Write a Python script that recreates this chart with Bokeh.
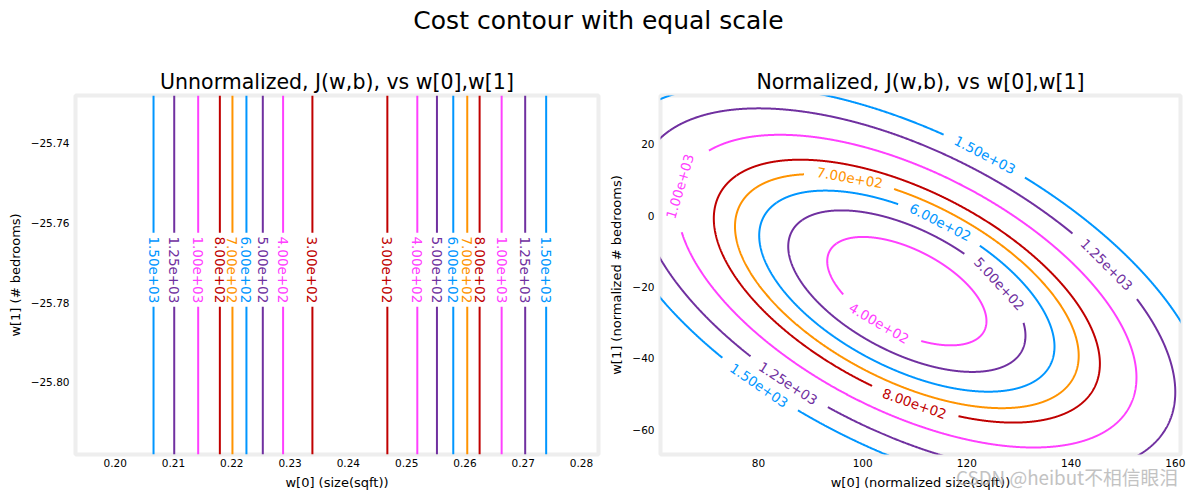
import numpy as np
from bokeh.plotting import figure
from bokeh.models import Range1d, FixedTicker, Div
from bokeh.layouts import column, row
from bokeh.core.properties import value
from bokeh.embed import file_html
from bokeh.resources import INLINE

FONT = "DejaVu Sans"
DLBLUE, DLORANGE, DLDARKRED, DLMAGENTA, DLPURPLE = "#0096ff", "#ff9300", "#c00000", "#ff40ff", "#7030a0"

# ---------------- data ----------------
levels = [300, 400, 500, 600, 700, 800, 1000, 1250, 1500]
level_colors = [DLDARKRED, DLMAGENTA, DLPURPLE, DLBLUE, DLORANGE, DLDARKRED, DLMAGENTA, DLPURPLE, DLBLUE]

# unnormalized: contour crossings along w[0] (lines are vertical)
left_w0_low = [0.23383, 0.22880, 0.22532, 0.22251, 0.22011, 0.21795, 0.21423, 0.21012, 0.20657]
left_w0_high = [0.24669, 0.25183, 0.25520, 0.25800, 0.26040, 0.26252, 0.26630, 0.27034, 0.27394]
left_label_w1 = -25.7718
left_x_range = (0.19318, 0.28292)
left_y_range = (-25.81818, -25.72800)
left_x_ticks = [0.20, 0.21, 0.22, 0.23, 0.24, 0.25, 0.26, 0.27, 0.28]
left_x_tick_labels = ["0.20", "0.21", "0.22", "0.23", "0.24", "0.25", "0.26", "0.27", "0.28"]
left_y_ticks = [-25.80, -25.78, -25.76, -25.74]
left_y_tick_labels = ["\u221225.80", "\u221225.78", "\u221225.76", "\u221225.74"]

# normalized: quadratic cost
right_center = (108.48, -21.15)
right_min_cost = 318.0
right_quad_coef = (0.5051, 0.561, 0.5111)   # coefficients of dx^2, dx*dy, dy^2
right_x_range = (61.2, 161.0)
right_y_range = (-66.92, 33.67)
right_x_ticks = [80, 100, 120, 140, 160]
right_x_tick_labels = ["80", "100", "120", "140", "160"]
right_y_ticks = [-60, -40, -20, 0, 20]
right_y_tick_labels = ["\u221260", "\u221240", "\u221220", "0", "20"]
right_label_levels = [1500, 1250, 1000, 700, 600, 500, 400, 800, 1250, 1500]
right_label_w0 = [123.6, 147.0, 65.2, 97.5, 114.8, 126.3, 103.0, 109.8, 85.7, 80.0]
right_label_w1 = [17.6, -13.4, 8.1, 10.1, -2.2, -19.0, -30.5, -53.2, -46.9, -47.9]

suptitle = "Cost contour with equal scale"
titles = ["Unnormalized, J(w,b), vs w[0],w[1]", "Normalized, J(w,b), vs w[0],w[1]"]
xlabels = ["w[0] (size(sqft))", "w[0] (normalized size(sqft))"]
ylabels = ["w[1] (# bedrooms)", "w[1] (normalized # bedrooms)"]
watermark = "CSDN @heibut不相信眼泪"

# ---------------- layout constants ----------------
FH = 359
FW1, FW2 = 523, 524
TOP, BOTTOM = 47, 40
LABEL_SIZE = "13.5px"


def fmt(L):
    return f"{L:.2e}"


def make_fig(title, xr, yr, fw, mbl, mbr, xlabel, ylabel, xt, xtl, yt, ytl):
    p = figure(width=mbl + fw + mbr, height=TOP + FH + BOTTOM,
               x_range=Range1d(*xr), y_range=Range1d(*yr),
               output_backend="svg", toolbar_location=None,
               min_border_left=mbl, min_border_right=mbr,
               min_border_top=TOP, min_border_bottom=BOTTOM)
    p.title.text = title
    p.title.text_font = FONT
    p.title.text_font_size = "20.5px"
    p.title.text_font_style = "normal"
    p.title.align = "center"
    p.title.text_color = "#000000"
    p.title.standoff = 3
    p.grid.visible = False
    p.outline_line_color = "#eeeeee"
    p.outline_line_width = 4
    p.background_fill_color = "white"
    p.border_fill_color = "white"
    for ax, lab, ticks, tl in ((p.xaxis, xlabel, xt, xtl), (p.yaxis, ylabel, yt, ytl)):
        ax.ticker = FixedTicker(ticks=ticks)
        ax.major_label_overrides = {t: s for t, s in zip(ticks, tl)}
        ax.axis_label = lab
        ax.axis_label_text_font = FONT
        ax.axis_label_text_font_size = "13px"
        ax.axis_label_text_font_style = "normal"
        ax.axis_label_text_color = "#000000"
        ax.major_label_text_font = FONT
        ax.major_label_text_font_size = "10.5px"
        ax.major_label_text_color = "#000000"
        ax.axis_line_color = None
        ax.major_tick_line_color = None
        ax.minor_tick_line_color = None
        ax.major_tick_out = 0
        ax.major_tick_in = 0
    p.xaxis.major_label_standoff = 4
    p.xaxis.axis_label_standoff = 5
    p.yaxis.major_label_standoff = 6
    return p


# ---------------- suptitle ----------------
p0 = figure(width=1186, height=48, x_range=Range1d(0, 1186), y_range=Range1d(0, 48),
            output_backend="svg", toolbar_location=None, min_border=0,
            x_axis_type=None, y_axis_type=None)
p0.outline_line_color = None
p0.grid.visible = False
p0.text(x=[598], y=[28], text=[suptitle], text_font=value(FONT), text_font_size=value("25px"),
        text_align="center", text_baseline="alphabetic", text_color="#000000")

# ---------------- left: unnormalized ----------------
p1 = make_fig(titles[0], left_x_range, left_y_range, FW1, 75, 8, xlabels[0], ylabels[0],
              left_x_ticks, left_x_tick_labels, left_y_ticks, left_y_tick_labels)
sy1 = FH / (left_y_range[1] - left_y_range[0])
gap1 = 37.0 / sy1
xs, ys, cs, lx, ly, lt, lc = [], [], [], [], [], [], []
for L, c, xa, xb in zip(levels, level_colors, left_w0_low, left_w0_high):
    for x in (xa, xb):
        xs += [[x, x], [x, x]]
        ys += [[left_y_range[0], left_label_w1 - gap1], [left_label_w1 + gap1, left_y_range[1]]]
        cs += [c, c]
        lx.append(x)
        ly.append(left_label_w1)
        lt.append(fmt(L))
        lc.append(c)
p1.multi_line(xs=xs, ys=ys, line_color=cs, line_width=2)
p1.text(x=lx, y=ly, text=lt, text_color=lc, angle=-np.pi / 2, text_font=value(FONT),
        text_font_size=value(LABEL_SIZE), text_align="center", text_baseline="middle")

# ---------------- right: normalized ----------------
p2 = make_fig(titles[1], right_x_range, right_y_range, FW2, 50, 6, xlabels[1], ylabels[1],
              right_x_ticks, right_x_tick_labels, right_y_ticks, right_y_tick_labels)
sx2 = FW2 / (right_x_range[1] - right_x_range[0])
sy2 = FH / (right_y_range[1] - right_y_range[0])
A, B, C = right_quad_coef
M = np.array([[A, B / 2], [B / 2, C]])
lam, V = np.linalg.eigh(M)
tt = np.linspace(0, 2 * np.pi, 2881)
circ = np.vstack([np.cos(tt), np.sin(tt)])
HALF_GAP = 46.0

xs, ys, cs, lx, ly, lt, lc, la = [], [], [], [], [], [], [], []
for L, c in zip(levels, level_colors):
    if L <= right_min_cost:
        continue
    r = np.sqrt(L - right_min_cost)
    d = V @ (circ * (r / np.sqrt(lam))[:, None])
    cx = right_center[0] + d[0]
    cy = right_center[1] + d[1]
    px = (cx - right_x_range[0]) * sx2
    py = (cy - right_y_range[0]) * sy2
    keep = np.ones(len(cx), dtype=bool)
    for Ll, gx, gy in zip(right_label_levels, right_label_w0, right_label_w1):
        if Ll != L:
            continue
        gpx = (gx - right_x_range[0]) * sx2
        gpy = (gy - right_y_range[0]) * sy2
        i = int(np.argmin((px - gpx) ** 2 + (py - gpy) ** 2))
        i0, i1 = (i - 3) % (len(px) - 1), (i + 3) % (len(px) - 1)
        ang = np.arctan2(py[i1] - py[i0], px[i1] - px[i0])
        if ang > np.pi / 2:
            ang -= np.pi
        elif ang <= -np.pi / 2:
            ang += np.pi
        lx.append(cx[i]); ly.append(cy[i]); lt.append(fmt(L)); lc.append(c); la.append(ang)
        keep &= ((px - px[i]) ** 2 + (py - py[i]) ** 2) > HALF_GAP ** 2
    idx = np.where(keep)[0]
    if len(idx) == 0:
        continue
    breaks = np.where(np.diff(idx) > 1)[0]
    starts = np.concatenate([[0], breaks + 1])
    ends = np.concatenate([breaks + 1, [len(idx)]])
    for s, e in zip(starts, ends):
        seg = idx[s:e]
        if len(seg) < 2:
            continue
        xs.append(list(cx[seg])); ys.append(list(cy[seg])); cs.append(c)

p2.multi_line(xs=xs, ys=ys, line_color=cs, line_width=2)
p2.text(x=lx, y=ly, text=lt, text_color=lc, angle=la, text_font=value(FONT),
        text_font_size=value(LABEL_SIZE), text_align="center", text_baseline="middle")

wm = Div(text=watermark, width=230, height=24,
         styles={"position": "absolute", "left": "951px", "top": "459px",
                 "font-family": "'Noto Sans CJK SC'", "font-size": "18.8px",
                 "color": "#b4b4b4", "opacity": "0.8", "white-space": "nowrap",
                 "pointer-events": "none", "z-index": "10"})

layout = column(p0, row(p1, p2, spacing=0), wm, spacing=0)
open("out.html", "w").write(file_html(layout, INLINE))
